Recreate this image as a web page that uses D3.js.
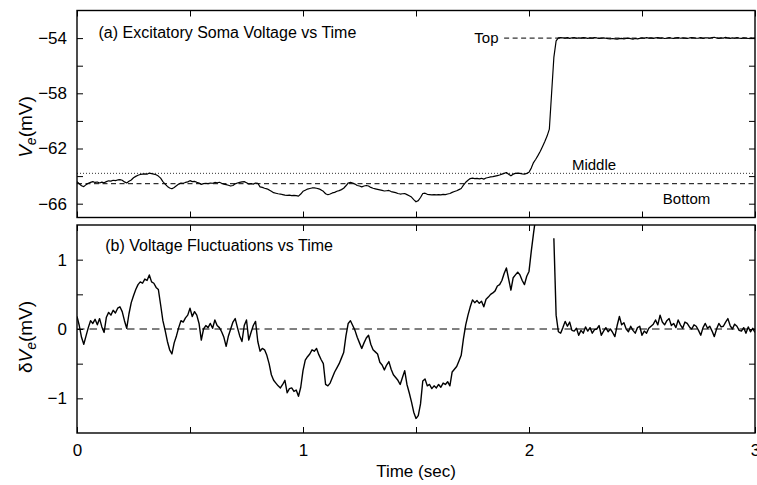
<!DOCTYPE html>
<html>
<head>
<meta charset="utf-8">
<script src="https://cdn.jsdelivr.net/npm/d3@7/dist/d3.min.js"></script>
<style>
  body { margin: 0; background: #fff; }
  svg text { font-family: "Liberation Sans", Arial, Helvetica, sans-serif; fill: #000; }
</style>
</head>
<body>
<svg id="chart" width="757" height="485"></svg>
<script>
// Sampling interval of both traces (seconds)
const DT = 0.01;

// Axis ticks and labels
const timeTicks = [0, 0.5, 1, 1.5, 2, 2.5, 3];
const timeLabels = [0, 1, 2, 3];
const somaTicks = [-66, -64, -62, -60, -58, -56, -54];
const somaLabels = [-66, -62, -58, -54];
const flucTicks = [-1, -0.5, 0, 0.5, 1];
const flucLabels = [-1, 0, 1];

// Reference levels of the soma voltage (mV)
const levelNames = ["Top", "Middle", "Bottom"];
const levelValues = [-54, -63.8, -64.55];
const topLineStart = 1.89; // time where the "Top" guide starts

// Excitatory soma voltage V_e (mV), sampled every DT from 0 to 3 s
const somaVoltage = [
  -64.40,-64.55,-64.70,-64.76,-64.62,-64.52,-64.45,-64.40,-64.46,-64.43,
  -64.50,-64.44,-64.48,-64.40,-64.34,-64.36,-64.30,-64.33,-64.28,-64.26,
  -64.30,-64.42,-64.50,-64.38,-64.28,-64.12,-64.02,-63.94,-63.88,-63.86,
  -63.84,-63.86,-63.78,-63.82,-63.86,-63.90,-64.00,-64.15,-64.40,-64.58,
  -64.75,-64.86,-64.92,-64.82,-64.70,-64.58,-64.50,-64.52,-64.46,-64.42,
  -64.33,-64.40,-64.38,-64.45,-64.50,-64.60,-64.55,-64.52,-64.54,-64.50,
  -64.52,-64.46,-64.48,-64.45,-64.52,-64.58,-64.62,-64.66,-64.72,-64.68,
  -64.56,-64.50,-64.45,-64.42,-64.40,-64.48,-64.58,-64.55,-64.58,-64.50,
  -64.52,-64.78,-64.82,-64.88,-64.92,-65.00,-65.10,-65.20,-65.24,-65.28,
  -65.30,-65.34,-65.38,-65.40,-65.38,-65.42,-65.40,-65.42,-65.45,-65.30,
  -65.10,-65.02,-64.94,-64.90,-64.86,-64.85,-64.88,-64.92,-65.00,-65.10,
  -65.28,-65.35,-65.30,-65.22,-65.18,-65.10,-65.05,-64.98,-64.88,-64.70,
  -64.50,-64.46,-64.50,-64.58,-64.68,-64.72,-64.78,-64.72,-64.68,-64.72,
  -64.82,-64.88,-64.92,-64.96,-65.00,-65.04,-65.08,-65.06,-65.04,-65.12,
  -65.16,-65.20,-65.26,-65.30,-65.28,-65.26,-65.34,-65.42,-65.52,-65.70,
  -65.86,-65.78,-65.55,-65.26,-65.24,-65.32,-65.34,-65.36,-65.34,-65.36,
  -65.34,-65.36,-65.32,-65.34,-65.30,-65.26,-65.18,-65.12,-65.06,-64.98,
  -64.90,-64.66,-64.45,-64.30,-64.18,-64.15,-64.18,-64.16,-64.20,-64.16,
  -64.22,-64.14,-64.10,-64.06,-64.04,-64.00,-63.96,-63.92,-63.86,-63.80,
  -63.74,-63.86,-63.98,-63.86,-63.80,-63.78,-63.80,-63.84,-63.86,-63.80,
  -63.72,-63.42,-63.02,-62.78,-62.50,-62.20,-61.85,-61.50,-61.10,-60.60,
  -58.00,-55.40,-54.20,-53.98,-53.96,
  -53.98,-54.00,-53.97,-54.02,-53.99,-53.96,-54.01,-53.98,-54.00,-53.97,
  -53.99,-54.02,-53.98,-54.00,-53.96,-53.99,-54.03,-54.00,-53.98,-54.01,
  -54.04,-54.06,-54.03,-54.05,-54.08,-54.04,-54.02,-54.06,-54.03,-54.00,
  -54.04,-54.07,-54.03,-54.05,-54.02,-53.99,-54.01,-53.97,-54.00,-53.98,
  -54.02,-53.99,-53.96,-54.00,-53.98,-54.03,-54.01,-53.97,-54.00,-54.02,
  -53.99,-53.97,-54.01,-53.98,-54.00,-54.03,-53.99,-53.96,-53.98,-54.01,
  -54.00,-53.97,-54.02,-53.99,-53.98,-54.01,-53.96,-53.94,-53.99,-54.02,
  -53.98,-54.00,-53.95,-53.99,-54.02,-53.98,-54.01,-53.97,-54.00,-54.02,
  -53.98,-54.00,-54.03,-53.99,-54.01,-54.00
];

// Voltage fluctuations dV_e (mV), same sampling; null where the trace jumps off scale
const voltageFluct = [
   0.18, 0.05,-0.12,-0.22,-0.10, 0.02, 0.12, 0.08, 0.14, 0.06,
   0.15, 0.03,-0.05, 0.17, 0.24, 0.20, 0.27, 0.23, 0.30, 0.32,
   0.25, 0.12, 0.01, 0.22, 0.38, 0.48, 0.57, 0.64, 0.68, 0.66,
   0.72, 0.70, 0.78, 0.68, 0.66, 0.60, 0.57, 0.35, 0.12,-0.02,
  -0.18,-0.30,-0.36,-0.20,-0.10, 0.02, 0.12, 0.10, 0.16, 0.20,
   0.30, 0.18, 0.25, 0.20, 0.08,-0.16, 0.00, 0.05, 0.02, 0.08,
   0.01, 0.13, 0.05, 0.02,-0.04,-0.12,-0.25,-0.10, 0.00, 0.10,
   0.15, 0.02,-0.10,-0.18, 0.05, 0.13,-0.16,-0.05, 0.05, 0.11,
  -0.18,-0.32,-0.28,-0.30,-0.38,-0.50,-0.66,-0.74,-0.78,-0.82,
  -0.85,-0.80,-0.74,-0.92,-0.86,-0.85,-0.90,-0.88,-0.97,-0.84,
  -0.60,-0.45,-0.40,-0.36,-0.30,-0.32,-0.28,-0.37,-0.44,-0.50,
  -0.80,-0.82,-0.78,-0.70,-0.62,-0.56,-0.50,-0.42,-0.34,-0.10,
   0.08, 0.12, 0.05,-0.02,-0.12,-0.20,-0.28,-0.20,-0.13,-0.09,
  -0.22,-0.30,-0.33,-0.36,-0.48,-0.52,-0.59,-0.52,-0.47,-0.58,
  -0.66,-0.70,-0.74,-0.80,-0.70,-0.60,-0.80,-0.92,-1.05,-1.20,
  -1.29,-1.25,-1.08,-0.75,-0.72,-0.82,-0.80,-0.86,-0.82,-0.85,
  -0.80,-0.84,-0.78,-0.80,-0.76,-0.82,-0.62,-0.58,-0.54,-0.46,
  -0.38,-0.14, 0.06, 0.20, 0.32, 0.42, 0.38, 0.41, 0.37, 0.40,
   0.32, 0.43, 0.46, 0.50, 0.52, 0.55, 0.62, 0.64, 0.70, 0.80,
   0.88, 0.72, 0.56, 0.74, 0.78, 0.82, 0.78, 0.70, 0.64, 0.76,
   0.83, 1.12, 1.38, 1.62, null, null, null, null, null, null,
   null, 1.31, 0.20,-0.04,-0.06, 0.02, 0.11, 0.04, 0.10,-0.02,
  -0.03, 0.01,-0.09,-0.02,-0.06, 0.03,-0.03, 0.02,-0.06,-0.01,
   0.00, 0.05,-0.09,-0.03, 0.02,-0.04, 0.00,-0.05,-0.11, 0.05,
   0.18, 0.06, 0.09, 0.00,-0.04, 0.04,-0.02,-0.06, 0.02, 0.04,
  -0.09,-0.03,-0.06, 0.01, 0.04, 0.07, 0.13, 0.06, 0.20, 0.10,
   0.06, 0.12, 0.15, 0.05, 0.08, 0.02, 0.13, 0.06, 0.01, 0.10,
   0.08, 0.03, 0.00, 0.06, 0.04,-0.02,-0.09, 0.02, 0.08, 0.01,
   0.04,-0.03,-0.11, 0.00, 0.08, 0.03, 0.04, 0.10, 0.15, 0.05,
   0.00, 0.07, 0.04,-0.02,-0.03, 0.02,-0.06, 0.03,-0.04, 0.01,
  -0.05
];

const svg = d3.select("#chart");
const FONT = "Liberation Sans, Arial, Helvetica, sans-serif";

const x = d3.scaleLinear().domain([0, 3]).range([77, 755]);
const yA = d3.scaleLinear().domain([-67, -52]).range([217.5, 10.5]);
const yB = d3.scaleLinear().domain([-1.5, 1.5]).range([433, 225]);

const fmtInt = d3.format("d");

function drawPanel(id, y, yTicks, yLabels, showTime) {
  const [y0, y1] = y.range();          // bottom, top
  const [x0, x1] = x.range();
  const g = svg.append("g").attr("id", id);

  g.append("clipPath").attr("id", id + "-clip")
    .append("rect").attr("x", x0).attr("y", y1).attr("width", x1 - x0).attr("height", y0 - y1);

  const style = sel => {
    sel.select(".domain").remove();
    sel.attr("font-family", FONT).attr("font-size", 17);
    sel.selectAll(".tick line").attr("stroke", "#000").attr("stroke-width", 1);
    sel.selectAll(".tick text").attr("fill", "#000");
  };

  // bottom / top time ticks (inward)
  g.append("g").attr("transform", `translate(0,${y0})`)
    .call(d3.axisBottom(x).tickValues(timeTicks).tickSize(-6).tickPadding(11)
      .tickFormat(d => showTime && timeLabels.includes(d) ? fmtInt(d) : ""))
    .call(style);
  g.append("g").attr("transform", `translate(0,${y1})`)
    .call(d3.axisTop(x).tickValues(timeTicks).tickSize(-6).tickFormat(""))
    .call(style);

  // left / right value ticks (inward)
  g.append("g").attr("transform", `translate(${x0},0)`)
    .call(d3.axisLeft(y).tickValues(yTicks).tickSize(-6).tickPadding(10)
      .tickFormat(d => yLabels.includes(d) ? fmtInt(d) : ""))
    .call(style);
  g.append("g").attr("transform", `translate(${x1},0)`)
    .call(d3.axisRight(y).tickValues(yTicks).tickSize(-6).tickFormat(""))
    .call(style);

  return g;
}

const line = y => d3.line()
  .defined(d => d != null)
  .x((d, i) => x(i * DT))
  .y(d => y(d));

// ---------- Panel (a): soma voltage ----------
const gA = drawPanel("panelA", yA, somaTicks, somaLabels, false);
const clipA = gA.append("g").attr("clip-path", "url(#panelA-clip)");

// Middle (dotted) and Bottom (dashed) guides across the panel, Top guide from its label
clipA.append("line")
  .attr("x1", x(0)).attr("x2", x(3))
  .attr("y1", yA(levelValues[1])).attr("y2", yA(levelValues[1]))
  .attr("stroke", "#333").attr("stroke-width", 1).attr("stroke-dasharray", "1,2");
clipA.append("line")
  .attr("x1", x(0)).attr("x2", x(3))
  .attr("y1", yA(levelValues[2])).attr("y2", yA(levelValues[2]))
  .attr("stroke", "#000").attr("stroke-width", 1).attr("stroke-dasharray", "5,3.5");
clipA.append("line")
  .attr("x1", x(topLineStart)).attr("x2", x(3))
  .attr("y1", yA(levelValues[0])).attr("y2", yA(levelValues[0]))
  .attr("stroke", "#000").attr("stroke-width", 1).attr("stroke-dasharray", "5,3.5");

clipA.append("path").datum(somaVoltage)
  .attr("d", line(yA))
  .attr("fill", "none").attr("stroke", "#000").attr("stroke-width", 1.2)
  .attr("stroke-linejoin", "round");

// level labels
gA.append("text").text(levelNames[0])
  .attr("x", x(1.865)).attr("y", yA(levelValues[0]) + 5)
  .attr("text-anchor", "end").attr("font-size", 15);
gA.append("text").text(levelNames[1])
  .attr("x", x(2.19)).attr("y", yA(levelValues[1]) - 3)
  .attr("font-size", 15);
gA.append("text").text(levelNames[2])
  .attr("x", x(2.592)).attr("y", yA(levelValues[2]) + 20)
  .attr("font-size", 15);

gA.append("text").text("(a) Excitatory Soma Voltage vs Time")
  .attr("x", x(0.095)).attr("y", 37.5).attr("font-size", 16);

// ---------- Panel (b): voltage fluctuations ----------
const gB = drawPanel("panelB", yB, flucTicks, flucLabels, true);
const clipB = gB.append("g").attr("clip-path", "url(#panelB-clip)");

clipB.append("line")
  .attr("x1", x(0)).attr("x2", x(3))
  .attr("y1", yB(0)).attr("y2", yB(0))
  .attr("stroke", "#000").attr("stroke-width", 1).attr("stroke-dasharray", "7.5,5");

clipB.append("path").datum(voltageFluct)
  .attr("d", line(yB))
  .attr("fill", "none").attr("stroke", "#000").attr("stroke-width", 1.4)
  .attr("stroke-linejoin", "round");

gB.append("text").text("(b) Voltage Fluctuations vs Time")
  .attr("x", x(0.125)).attr("y", 250.5).attr("font-size", 16);

// frames drawn last so they sit above the traces
[yA, yB].forEach(y => {
  svg.append("rect")
    .attr("x", x.range()[0]).attr("y", y.range()[1])
    .attr("width", x.range()[1] - x.range()[0]).attr("height", y.range()[0] - y.range()[1])
    .attr("fill", "none").attr("stroke", "#000").attr("stroke-width", 1.4);
});

// ---------- axis titles ----------
function axisTitle(prefix, cx, cy) {
  const t = svg.append("text")
    .attr("transform", `translate(${cx},${cy}) rotate(-90)`)
    .attr("text-anchor", "middle").attr("font-size", 19);
  if (prefix) t.append("tspan").text(prefix);
  t.append("tspan").text("V").attr("font-style", "italic");
  t.append("tspan").text("e").attr("font-style", "italic").attr("font-size", 14).attr("dy", 4);
  t.append("tspan").text("(mV)").attr("dy", -4);
}
axisTitle("", 32, 127);
axisTitle("\u03b4", 32, 337);

svg.append("text").text("Time (sec)")
  .attr("x", x(1.5)).attr("y", 477)
  .attr("text-anchor", "middle").attr("font-size", 17);
</script>
</body>
</html>
